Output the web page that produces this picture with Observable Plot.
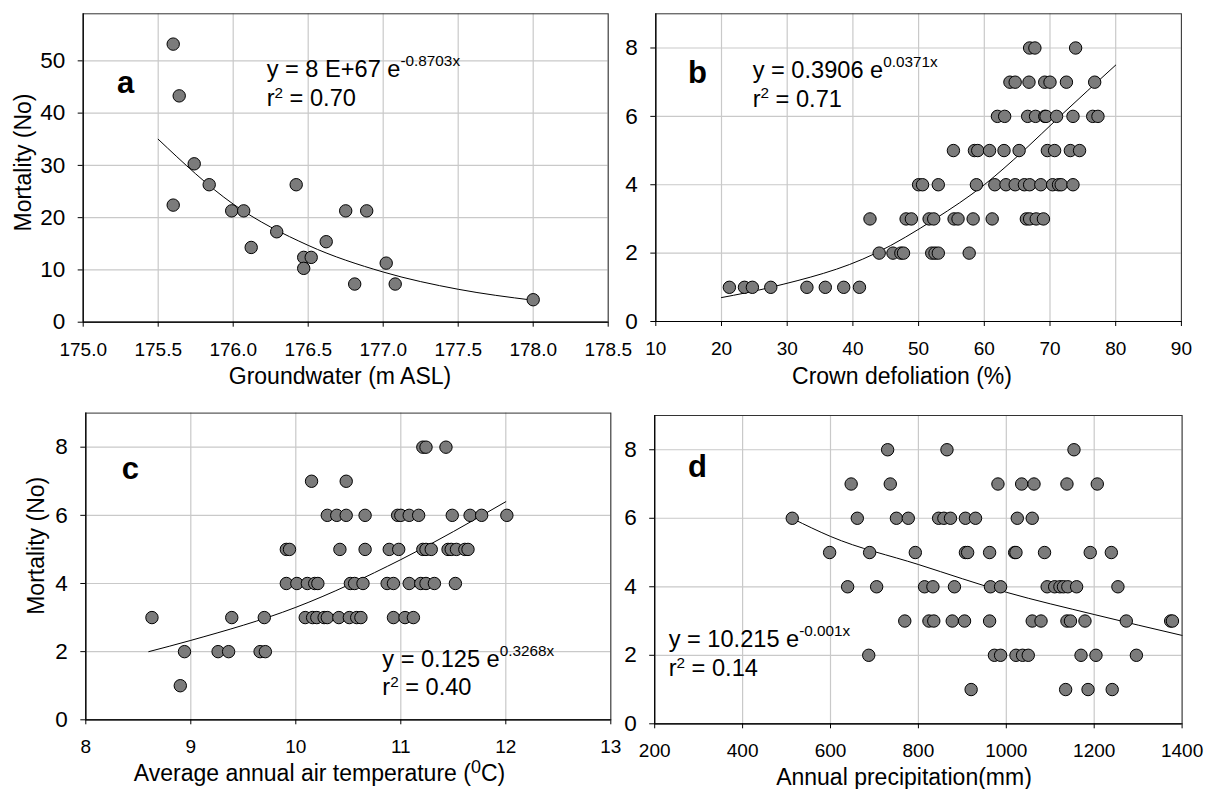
<!DOCTYPE html>
<html><head><meta charset="utf-8">
<script src="https://cdn.jsdelivr.net/npm/d3@7"></script>
<script src="https://cdn.jsdelivr.net/npm/@observablehq/plot@0.6"></script>
<style>
body{margin:0;background:#fff;}
#wrap{position:relative;width:1205px;height:789px;overflow:hidden;background:#fff;}
</style></head><body><div id="wrap"></div>
<script>
// ---------- Panel a: groundwater ----------
const gwLevel = [175.60,175.64,175.74,175.84,175.60,175.99,176.07,176.12,176.29,176.42,176.47,176.47,176.52,176.62,176.75,176.89,176.81,177.02,177.08,178.00];
const gwMort  = [53.2,43.3,30.3,26.3,22.4,21.3,21.3,14.3,17.3,26.3,12.4,10.3,12.4,15.4,21.3,21.3,7.3,11.3,7.3,4.3];
const gwFitX = [175.5,176.0,176.5,177.0,177.5,178.0];
const gwFitY = [35,22.6,14.7,9.6,6.3,4.2];
const gwTicksX = [175.0,175.5,176.0,176.5,177.0,177.5,178.0,178.5];
const gwTicksY = [0,10,20,30,40,50];

// ---------- Panel b: crown defoliation ----------
const defol = [
  21.2,23.5,24.7,27.5,33.0,35.8,38.6,41.0,
  44.0,46.1,47.3,47.7,52.0,52.5,53.0,57.7,
  42.6,48.1,48.9,51.6,52.3,55.4,56.0,58.3,61.2,66.4,66.9,67.9,69.0,
  50.0,50.6,53.0,58.8,61.6,63.3,64.7,66.1,66.9,68.6,70.4,71.3,71.7,73.5,
  55.3,58.5,59.0,60.8,63.0,65.3,69.6,70.7,73.1,74.5,
  62.0,63.1,66.6,67.8,69.2,69.4,71.0,73.5,76.5,77.3,
  63.9,64.7,66.8,69.2,70.0,72.5,76.8,
  66.9,67.7,73.9];
const defolMort = [
  1,1,1,1,1,1,1,1,
  2,2,2,2,2,2,2,2,
  3,3,3,3,3,3,3,3,3,3,3,3,3,
  4,4,4,4,4,4,4,4,4,4,4,4,4,4,
  5,5,5,5,5,5,5,5,5,5,
  6,6,6,6,6,6,6,6,6,6,
  7,7,7,7,7,7,7,
  8,8,8];
const defolFitX = [20,27.5,43.5,52.5,60,66,71.5,80];
const defolFitY = [0.7,1,2,3,4,5,6,7.5];
const defolTicksX = [10,20,30,40,50,60,70,80,90];
const mortTicks = [0,2,4,6,8];

// ---------- Panel c: air temperature ----------
const temp = [
  8.90,
  8.94,9.26,9.36,9.66,9.71,
  8.63,9.39,9.70,10.09,10.16,10.20,10.27,10.30,10.41,10.51,10.58,10.62,10.93,11.04,11.12,
  9.91,10.01,10.11,10.18,10.21,10.52,10.56,10.64,10.87,10.93,11.08,11.19,11.24,11.32,11.52,
  9.91,9.94,10.42,10.66,10.89,10.98,11.21,11.24,11.29,11.45,11.48,11.53,11.61,11.64,
  10.30,10.39,10.48,10.66,10.97,11.00,11.08,11.17,11.49,11.66,11.77,12.01,
  10.15,10.48,
  11.21,11.24,11.43];
const tempMort = [
  1,
  2,2,2,2,2,
  3,3,3,3,3,3,3,3,3,3,3,3,3,3,3,
  4,4,4,4,4,4,4,4,4,4,4,4,4,4,4,
  5,5,5,5,5,5,5,5,5,5,5,5,5,5,
  6,6,6,6,6,6,6,6,6,6,6,6,
  7,7,
  8,8,8];
const tempFitX = [8.6,9,10,11,12];
const tempFitY = [2.0,2.33,3.3,4.7,6.4];
const tempTicksX = [8,9,10,11,12,13];

// ---------- Panel d: precipitation ----------
const precip = [
  920,1135,1186,1241,
  687,973,987,1022,1037,1050,1170,1204,1296,
  769,824,835,877,905,962,1059,1079,1138,1146,1179,1273,1374,1378,
  639,705,814,833,882,964,987,1093,1110,1122,1130,1140,1160,1254,
  598,689,793,907,912,962,1019,1022,1087,1191,1239,
  513,661,750,777,846,858,873,907,930,1025,1059,
  647,736,981,1035,1063,1138,1207,
  730,865,1154];
const precipMort = [
  1,1,1,1,
  2,2,2,2,2,2,2,2,2,
  3,3,3,3,3,3,3,3,3,3,3,3,3,3,
  4,4,4,4,4,4,4,4,4,4,4,4,4,4,
  5,5,5,5,5,5,5,5,5,5,5,
  6,6,6,6,6,6,6,6,6,6,6,
  7,7,7,7,7,7,7,
  8,8,8];
const precipFitX = [515,600,800,1000,1200,1400];
const precipFitY = [5.98,5.47,4.65,3.84,3.19,2.58];
const precipTicksX = [200,400,600,800,1000,1200,1400];

// ---------- Texts ----------
const panelLetters = ["a","b","c","d"];
const eqMain = ["y = 8 E+67 e","y = 0.3906 e","y = 0.125 e","y = 10.215 e"];
const eqSup  = ["-0.8703x","0.0371x","0.3268x","-0.001x"];
const r2Vals = ["0.70","0.71","0.40","0.14"];
const xTitles = ["Groundwater (m ASL)","Crown defoliation (%)","Average annual air temperature (","Annual precipitation(mm)"];
const yTitle = "Mortality (No)";

const wrap = d3.select("#wrap");
const font = "'Liberation Sans',Arial,sans-serif";

function panel(o) {
  const pts = o.px.map((x, i) => ({x, y: o.py[i]}));
  const fit = o.fx.map((x, i) => ({x, y: o.fy[i]}));
  const svg = Plot.plot({
    width: o.width, height: o.height,
    marginLeft: o.mL, marginRight: o.mR, marginTop: o.mT, marginBottom: o.mB,
    style: {background: "transparent", overflow: "visible", fontFamily: font, fontSize: "19px", color: "#000"},
    x: {domain: o.xDomain},
    y: {domain: o.yDomain},
    marks: [
      Plot.gridX(o.xTicks, {stroke: "#c9c9c9", strokeOpacity: 1, strokeWidth: 1.2}),
      Plot.gridY(o.yTicks, {stroke: "#c9c9c9", strokeOpacity: 1, strokeWidth: 1.2}),
      Plot.line(fit, {x: "x", y: "y", stroke: "#000", strokeWidth: 1, curve: "monotone-x"}),
      Plot.dot(pts, {x: "x", y: "y", r: 6.2, fill: "#7b7b7b", fillOpacity: 1, stroke: "#000", strokeWidth: 1}),
      Plot.frame({stroke: "#333", strokeWidth: 1}),
      Plot.ruleY([o.yDomain[0]], {stroke: "#000", strokeWidth: 1.2}),
      Plot.ruleX([o.xDomain[0]], {stroke: "#000", strokeWidth: 1.2}),
      Plot.axisX(o.xTicks, {tickSize: 5, tickPadding: 15, tickFormat: o.xFmt, label: null, fontSize: 19}),
      Plot.axisY(o.yTicks, {tickSize: 5, tickPadding: 13, label: null, fontSize: 22.5})
    ]
  });
  svg.style.position = "absolute";
  svg.style.left = o.left + "px";
  svg.style.top = o.top + "px";
  svg.style.maxWidth = "none";
  wrap.node().appendChild(svg);
}

panel({left: 0, top: 0, width: 620, height: 410, mL: 82.7, mR: 12.3, mT: 13.3, mB: 88.3,
  xDomain: [175, 178.5], yDomain: [0, 59], xTicks: gwTicksX, yTicks: gwTicksY, xFmt: d3.format(".1f"),
  px: gwLevel, py: gwMort, fx: gwFitX, fy: gwFitY});
panel({left: 600, top: 0, width: 605, height: 410, mL: 55.3, mR: 24.1, mT: 13.3, mB: 89,
  xDomain: [10, 90], yDomain: [0, 9], xTicks: defolTicksX, yTicks: mortTicks, xFmt: d3.format("d"),
  px: defol, py: defolMort, fx: defolFitX, fy: defolFitY});
panel({left: 0, top: 390, width: 620, height: 399, mL: 85.3, mR: 9.7, mT: 22.6, mB: 69.7,
  xDomain: [8, 13], yDomain: [0, 9], xTicks: tempTicksX, yTicks: mortTicks, xFmt: d3.format("d"),
  px: temp, py: tempMort, fx: tempFitX, fy: tempFitY});
panel({left: 600, top: 390, width: 605, height: 399, mL: 54.2, mR: 23.4, mT: 25, mB: 65.7,
  xDomain: [200, 1400], yDomain: [0, 9], xTicks: precipTicksX, yTicks: mortTicks, xFmt: d3.format("d"),
  px: precip, py: precipMort, fx: precipFitX, fy: precipFitY});

// ---------- annotation overlay ----------
const ov = wrap.append("svg").attr("width", 1205).attr("height", 789)
  .style("position", "absolute").style("left", 0).style("top", 0)
  .style("font-family", font).style("pointer-events", "none");

const letterPos = [[117, 92.7], [688, 83.3], [121.7, 479.3], [688, 476.7]];
const eqPos = [[266.7, 77.3, 106], [752.7, 78.3, 106.7], [382.3, 667, 695], [668.7, 647, 676]];
const xTitlePos = [[340, 384], [902, 384], [319.5, 781], [904, 785]];
const yTitlePos = [[30.7, 162.5], [44.2, 545.8]];

panelLetters.forEach((l, i) => {
  ov.append("text").attr("x", letterPos[i][0]).attr("y", letterPos[i][1])
    .attr("font-size", 31).attr("font-weight", "bold").text(l);
});
eqMain.forEach((m, i) => {
  const [x, y1, y2] = eqPos[i];
  const t = ov.append("text").attr("x", x).attr("y", y1).attr("font-size", 23.6);
  t.append("tspan").text(m);
  t.append("tspan").attr("font-size", 15.3).attr("dy", -11).text(eqSup[i]);
  const r = ov.append("text").attr("x", x).attr("y", y2).attr("font-size", 23.6);
  r.append("tspan").text("r");
  r.append("tspan").attr("font-size", 15.3).attr("dy", -8.5).text("2");
  r.append("tspan").attr("dy", 8.5).text(" = " + r2Vals[i]);
});
xTitles.forEach((s, i) => {
  const t = ov.append("text").attr("x", xTitlePos[i][0]).attr("y", xTitlePos[i][1])
    .attr("font-size", 23).attr("text-anchor", "middle");
  t.append("tspan").text(s);
  if (i === 2) {
    t.append("tspan").attr("font-size", 18).attr("dy", -8).text("0");
    t.append("tspan").attr("dy", 8).text("C)");
  }
});
yTitlePos.forEach(([x, y]) => {
  ov.append("text").attr("transform", `translate(${x},${y}) rotate(-90)`)
    .attr("font-size", 23).attr("text-anchor", "middle").text(yTitle);
});
</script></body></html>
